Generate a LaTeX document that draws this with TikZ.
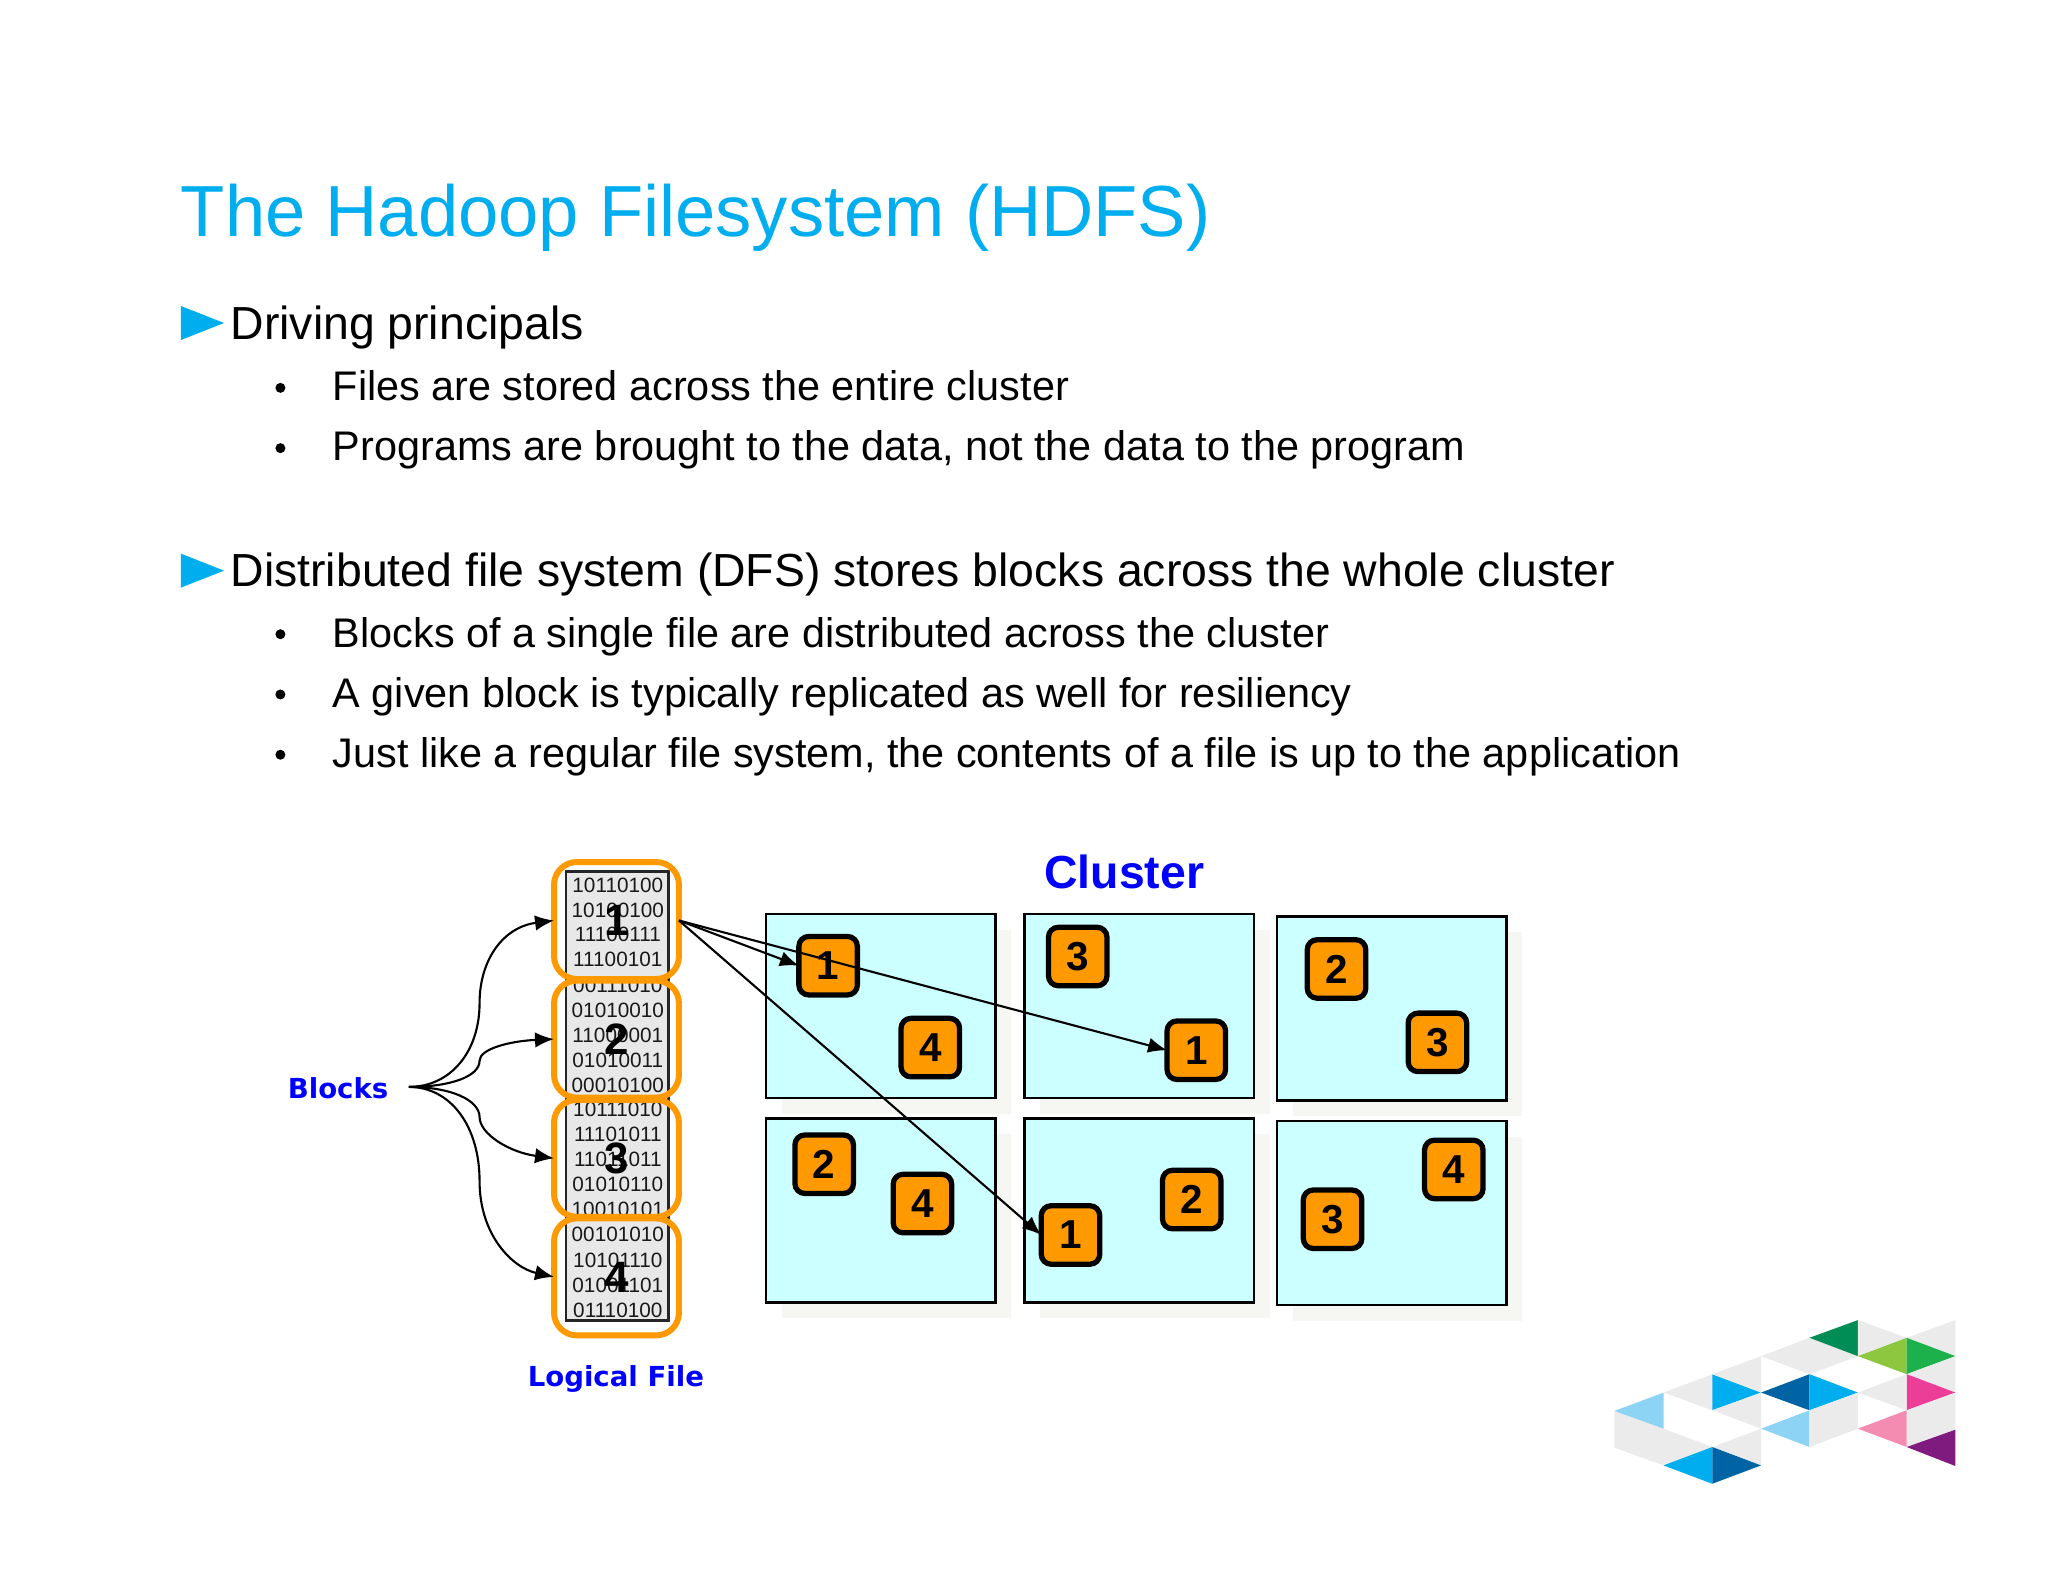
\documentclass[tikz,border=0pt]{standalone}
\usepackage{fontspec}
\setmainfont{Liberation Sans}
\newfontfamily\dejavu{DejaVu Sans}
\usetikzlibrary{arrows.meta}
\definecolor{hblue}{HTML}{00AEEF}
\definecolor{hdark}{HTML}{0063A3}
\definecolor{hlight}{HTML}{8DD3F4}
\definecolor{hgrey}{HTML}{EBEBEC}
\definecolor{horange}{HTML}{FF9900}
\definecolor{hcyan}{HTML}{CCFFFF}
\definecolor{hshadow}{HTML}{F6F6F3}
\definecolor{hlabel}{HTML}{0000FF}
\tikzset{
  x=0.013103cm,y=-0.013103cm,
  titletext/.style={anchor=base west,inner sep=0,outer sep=0,text=hblue,font=\fontsize{20.6}{26}\selectfont},
  maintext/.style={anchor=base west,inner sep=0,outer sep=0,font=\fontsize{13.2}{16}\selectfont},
  subtext/.style={anchor=base west,inner sep=0,outer sep=0,font=\fontsize{11.78}{14}\selectfont},
  dotmark/.style={circle,fill=black,inner sep=0,outer sep=0,minimum size=0.1cm},
  headmark/.style={fill=hblue},
  machine/.style={draw=black,line width=0.7pt,fill=hcyan,anchor=north west,inner sep=0,outer sep=0,minimum width=2.295cm,minimum height=1.84cm},
  machineshadow/.style={fill=hshadow,anchor=north west,inner sep=0,outer sep=0,minimum width=2.295cm,minimum height=1.84cm},
  tile/.style={draw=black,line width=1.5pt,fill=horange,rounded corners=2.8pt,inner sep=0,outer sep=0,minimum width=0.585cm,minimum height=0.585cm,font=\fontsize{11.5}{14}\selectfont\bfseries},
  blockbox/.style={draw=horange,line width=1.7pt,rounded corners=6.5pt,inner sep=0,outer sep=0,minimum width=1.25cm,minimum height=1.17cm,font=\fontsize{12.5}{15}\selectfont\bfseries},
  filebox/.style={draw=black!85,line width=0.8pt,fill=black!9,anchor=north west,inner sep=0,outer sep=0,minimum width=1.022cm,minimum height=4.494cm},
  bits/.style={inner sep=0,outer sep=0,font=\fontsize{5.9}{7}\selectfont,text=black!90},
  bluelabel/.style={inner sep=0,outer sep=0,text=hlabel,font=\dejavu\bfseries\fontsize{7.85}{10}\selectfont},
  clusterlabel/.style={inner sep=0,outer sep=0,text=hlabel,font=\fontsize{13.2}{16}\selectfont\bfseries},
  link/.style={draw=black,line width=0.6pt,-{Latex[length=5.4pt,width=4.4pt]}},
  g/.style={fill=hgrey}
}
\begin{document}
\begin{tikzpicture}
\useasboundingbox (0,0) rectangle (1563,1207.3);
% text
\node[titletext] (title) at (138,180.5) {The Hadoop Filesystem (HDFS)};
\fill[headmark] (138,233.5) -- (171,246.5) -- (138,259.5) -- cycle;
\node[maintext] (m1) at (176,259) {Driving principals};
\node[dotmark] (d1) at (214,296) {};
\node[subtext] (s1) at (254,305.5) {Files are stored across the entire cluster};
\node[dotmark] (d2) at (214,342) {};
\node[subtext] (s2) at (254,351.5) {Programs are brought to the data, not the data to the program};
\fill[headmark] (138,422.5) -- (171,435.5) -- (138,448.5) -- cycle;
\node[maintext] (m2) at (176,447.5) {Distributed file system (DFS) stores blocks across the whole cluster};
\node[dotmark] (d3) at (214,484) {};
\node[subtext] (s3) at (254,494.5) {Blocks of a single file are distributed across the cluster};
\node[dotmark] (d4) at (214,530) {};
\node[subtext] (s4) at (254,540) {A given block is typically replicated as well for resiliency};
\node[dotmark] (d5) at (214,576) {};
\node[subtext] (s5) at (254,586) {Just like a regular file system, the contents of a file is up to the application};
\begin{scope}[shift={(-2,-2.5)}]
% cluster
\node[clusterlabel] (cluster) at (860,668) {Cluster};
\foreach \n/\x/\y in {a/586.5/700,b/784/700,c/976.5/702,d/586.5/856,e/784/856,f/976.5/858}{
  \node[machineshadow] (sh\n) at (\x+12,\y+12) {};
}
\foreach \n/\x/\y in {a/586.5/700,b/784/700,c/976.5/702,d/586.5/856,e/784/856,f/976.5/858}{
  \node[machine] (box\n) at (\x,\y) {};
}
\node[tile] (a1) at (634,739.5) {1};
\node[tile] (a4) at (712,802) {4};
\node[tile] (b3) at (824.5,732.5) {3};
\node[tile] (b1) at (915,804) {1};
\node[tile] (c2) at (1022,742) {2};
\node[tile] (c3) at (1099,798) {3};
\node[tile] (d2t) at (631,891) {2};
\node[tile] (d4t) at (706,921) {4};
\node[tile] (e1) at (819,945) {1};
\node[tile] (e2) at (911.5,918) {2};
\node[tile] (f3) at (1019,933) {3};
\node[tile] (f4) at (1111.5,895) {4};
% logical file
\node[filebox] (file) at (434,667.5) {};
\foreach \i/\y/\t in {1/678.5/10110100,2/697.5/10100100,3/715.5/11100111,4/734.5/11100101,
  5/754.5/00111010,6/773.5/01010010,7/792.5/11000001,8/811.5/01010011,9/830.5/00010100,
  10/849.5/10111010,11/868.5/11101011,12/887.5/11011011,13/906.5/01010110,14/925.5/10010101,
  15/944.5/00101010,16/964.5/10101110,17/983.5/01001101,18/1002.5/01110100}{
  \node[bits] (bits\i) at (473.5,\y) {\t};
}
\node[blockbox] (blk1) at (472.5,705) {1};
\node[blockbox] (blk2) at (472.5,795.5) {2};
\node[blockbox] (blk3) at (472.5,886.5) {3};
\node[blockbox] (blk4) at (472.5,977) {4};
\node[bluelabel] (blocks) at (260,833) {Blocks};
\node[bluelabel] (logical) at (472,1055) {Logical File};
\coordinate (out) at (314,832);
\path[link] (out) .. controls (346,832) and (368,805) .. (368,768) .. controls (368,735) and (386,710) .. (blk1.west);
\path[link] (out) .. controls (346,832) and (368,824) .. (368,812) .. controls (368,803) and (391,797) .. (blk2.west);
\path[link] (out) .. controls (346,832) and (368,842) .. (368,855) .. controls (368,868) and (391,882) .. (blk3.west);
\path[link] (out) .. controls (346,832) and (368,862) .. (368,904) .. controls (368,945) and (393,970) .. (blk4.west);
\path[link] (blk1.east) -- (a1.west);
\path[link] (blk1.east) -- (b1.west);
\path[link] (blk1.east) -- (e1.west);
\end{scope}
% logo
\begin{scope}[shift={(1205.8,984.5)},x=0.003344cm,y=-0.003344cm]
\fill[g] (103,362)--(250,415)--(396,470)--(250,525)--(103,472)--cycle;
\fill[hlight] (103,362)--(250,307)--(250,415)--cycle;
\fill[g] (396,470)--(542,415)--(542,524)--cycle;
\fill[hblue] (250,525)--(396,470)--(396,580)--cycle;
\fill[hdark] (396,470)--(542,525)--(396,580)--cycle;
\fill[g] (250,307)--(396,252)--(396,360)--cycle;
\fill[hblue] (396,252)--(542,307)--(396,360)--cycle;
\fill[g] (396,252)--(542,198)--(542,307)--cycle;
\fill[g] (396,360)--(542,307)--(542,415)--cycle;
\fill[hdark] (542,307)--(687,252)--(687,360)--cycle;
\fill[hblue] (687,252)--(832,307)--(687,360)--cycle;
\fill[g] (542,198)--(687,143)--(832,198)--(687,252)--cycle;
\fill[fill={rgb,255:red,0;green,140;blue,85}] (687,143)--(832,90)--(832,198)--cycle;
\fill[g] (832,90)--(978,143)--(832,198)--cycle;
\fill[g] (978,143)--(1124,90)--(1124,198)--cycle;
\fill[fill={rgb,255:red,141;green,198;blue,63}] (832,198)--(978,143)--(978,252)--cycle;
\fill[fill={rgb,255:red,29;green,177;blue,75}] (978,143)--(1124,198)--(978,252)--cycle;
\fill[g] (978,252)--(1124,198)--(1124,307)--cycle;
\fill[fill={rgb,255:red,236;green,62;blue,150}] (978,252)--(1124,307)--(978,360)--cycle;
\fill[g] (832,307)--(978,252)--(978,360)--cycle;
\fill[g] (978,360)--(1124,307)--(1124,418)--(978,470)--cycle;
\fill[fill={rgb,255:red,244;green,139;blue,176}] (832,415)--(978,360)--(978,470)--cycle;
\fill[fill={rgb,255:red,127;green,26;blue,127}] (978,470)--(1124,418)--(1124,527)--cycle;
\fill[hlight] (542,415)--(687,360)--(687,470)--cycle;
\fill[g] (687,360)--(832,307)--(832,415)--(687,470)--cycle;
\end{scope}
\end{tikzpicture}
\end{document}
